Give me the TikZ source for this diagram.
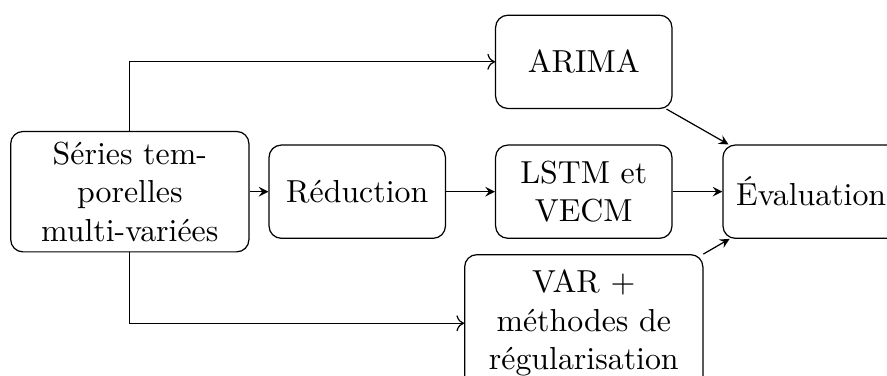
\documentclass[tikz,border=0pt]{standalone}
\usetikzlibrary{arrows.meta}
\newcommand{\narrow}{1.79cm}
\newcommand{\wide}{2.5cm}

\begin{document}
\begin{tikzpicture}[box/.style={draw, rounded corners, align=center, minimum height=1.07cm, text width=\narrow, font=\fontsize{10.4}{12.6}\selectfont}]
\useasboundingbox (-1.49, 2.2) rectangle (8.69, -2.11);
\node[box, text width=\wide] (1) at (0.0, 0.0) {Séries tem-\\porelles\\multi-variées};
\node[box] (2) at (2.61, 0.0) {Réduction};
\node[box] (3) at (5.21, 1.49) {ARIMA};
\node[box] (4) at (5.21, 0.0) {LSTM et\\VECM};
\node[box, text width=\wide, inner ysep=5pt] (5) at (5.21, -1.51) {VAR +\\méthodes de\\régularisation};
\node[box] (6) at (7.82, 0.0) {Évaluation};
%branches
\draw[->] (1.north) |- (3.west);
\draw[->] (1.south) |- (5.west);
%chain
\draw[-stealth] (1) -- (2);
\draw[-stealth] (2) -- (4);
\draw[-stealth] (4) -- (6);
\draw[-stealth] (3) -- (6);
\draw[-stealth] (5) -- (6);
\end{tikzpicture}
\end{document}
